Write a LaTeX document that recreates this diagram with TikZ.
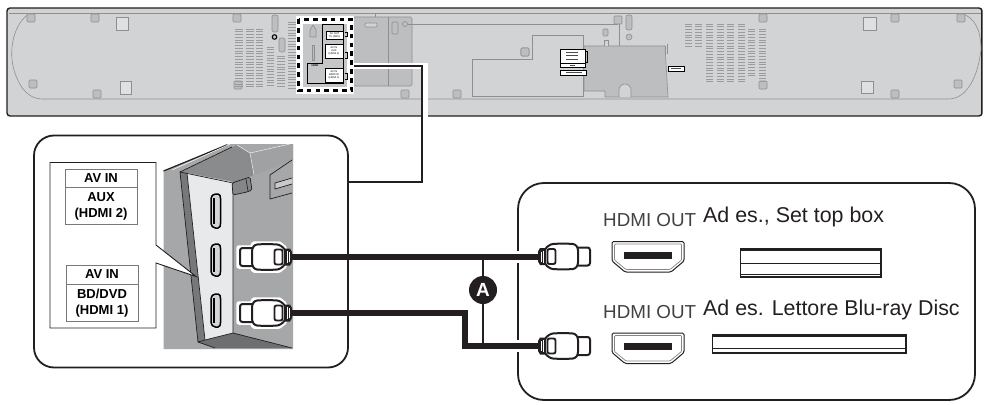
\documentclass[tikz,border=0pt]{standalone}
\usepackage{fontspec}
\setmainfont{Liberation Sans}
\definecolor{barfill}{HTML}{D2D3D4}
\definecolor{barline}{HTML}{8E8F90}
\definecolor{bardark}{HTML}{BDBEBF}
\definecolor{ventline}{HTML}{9A9B9C}
\definecolor{wall}{HTML}{A6A7A9}
\definecolor{wallup}{HTML}{8A8B8D}
\definecolor{wallr}{HTML}{A0A1A3}
\definecolor{plate}{HTML}{E8E9EA}
\definecolor{edgeg}{HTML}{77787A}
\definecolor{floorg}{HTML}{6E6F71}
\definecolor{ink}{HTML}{231F20}
\tikzset{
  panelbox/.style={draw=ink,line width=1.8pt,fill=white,rounded corners=#1,inner sep=0pt},
  barpart/.style={draw=barline,line width=.6pt},
  peg/.style={draw=barline,line width=.6pt,fill=bardark},
  bigsq/.style={draw=barline,line width=.6pt,fill=barfill!70!white},
  vent/.style={draw=ventline,line width=.6pt},
  tinybox/.style={draw=black,line width=.7pt,fill=white},
  tinytxt/.style={font=\fontsize{2.6}{3}\selectfont,align=center,inner sep=0pt},
  lblhead/.style={draw=edgeg,line width=.8pt,fill=white,inner sep=0pt,font=\bfseries\fontsize{13}{15}\selectfont},
  lblbody/.style={draw=edgeg,line width=.8pt,fill=white,inner sep=0pt,align=center,font=\bfseries\fontsize{13}{16.5}\selectfont},
  cablehalo/.style={draw=white,line width=12pt,line cap=butt},
  cableline/.style={draw=ink,line width=5.5pt,line join=miter,line cap=butt},
  hdmitxt/.style={anchor=base west,inner sep=0pt,text=ink!85,font=\fontsize{18.8}{20}\selectfont},
  devtxt/.style={anchor=base west,inner sep=0pt,text=ink,font=\fontsize{21.4}{23}\selectfont},
  devbox/.style={draw=ink,line width=1.1pt,fill=white},
  devband/.style={draw=ink,line width=2.2pt},
}
\newcommand{\pegat}[2]{\draw[peg,rounded corners=1pt] (#1-4,#2-4) rectangle (#1+4,#2+4);}
\newcommand{\ventcol}[4]{\foreach \nn in {0,...,40}{\pgfmathsetmacro{\yy}{#3+\nn*2.75}\pgfmathparse{\yy<=#4?1:0}\ifnum\pgfmathresult=1\draw[vent] (#1,\yy)--(#2,\yy);\fi}}
\newcommand{\plugshape}{%
  \path[fill=white,draw=white,line width=5.5pt,line join=round] (-53,-9)--(-40,-9)--(-38,-13)--(-13,-13)--(-8,-9)--(-8,9)--(-13,13)--(-38,13)--(-40,9)--(-53,9)--cycle;
  \draw[ink,line width=2pt,fill=white,rounded corners=2.5pt] (-52,-9)rectangle(-38,9);
  \draw[ink,line width=2pt,fill=white,rounded corners=2.5pt] (-40,-8.5)--(-37,-12.5)--(-25,-13)--(-13,-12.5)--(-7,-8)--(-7,8)--(-13,12.5)--(-25,13)--(-37,12.5)--(-40,8.5)--cycle;
  \draw[ink,line width=1.9pt,fill=white,rounded corners=2pt] (-17.5,-7.5)rectangle(-9.5,7.5);
  \fill[ink] (-7,-8.5)--(-2,-8.5)--(0,-5)--(0,5)--(-2,8.5)--(-7,8.5)--cycle;
  \draw[white,line width=.5pt] (-5,-6)--(-5,6) (-2.8,-5)--(-2.8,5);
}
\newcommand{\outport}[2]{%
  \draw[ink,line width=1pt,fill=white,rounded corners=1.5pt] (#1-36,#2-15.5)--(#1+36,#2-15.5)--(#1+36,#2+4)--(#1+23,#2+15)--(#1-23,#2+15)--(#1-36,#2+4)--cycle;
  \draw[ink!55,line width=.7pt,rounded corners=1pt] (#1-33.5,#2-13)--(#1+33.5,#2-13)--(#1+33.5,#2+3)--(#1+22,#2+12.5)--(#1-22,#2+12.5)--(#1-33.5,#2+3)--cycle;
  \fill[ink] (#1-24,#2-5.5) rectangle (#1+24,#2+1.5);
}
\newcommand{\inport}[3]{%
  \draw[black,line width=1.5pt,fill=plate!70!wall,rounded corners=1.5pt] (#1-5,#2+2)--(#1-5,#3-2)--(#1-2,#3+1)--(#1+3.5,#3+1)--(#1+4.5,#3-2)--(#1+4.5,#2+2)--(#1+3.5,#2-1)--(#1-2,#2-1)--cycle;
  \fill[black] (#1-3,#2+3) rectangle (#1-1.5,#3-3);
}
\begin{document}
\begin{tikzpicture}[x=1pt,y=-1pt]
\useasboundingbox (0,0) rectangle (987,404);
% ---------- sound bar
\node[draw=ink,line width=1.4pt,fill=barfill,rounded corners=3pt,minimum width=975pt,minimum height=108pt,inner sep=0pt] (bar) at (494.5,62) {};
\draw[ink,line width=1pt] (981.5,10)--(981.5,114);
\draw[barpart] (9,13.5)--(981,13.5);
\draw[barpart] (30,13.5) .. controls (14,22) and (8,50) .. (14,70) .. controls (20,90) and (30,99) .. (42,99) -- (948,99) .. controls (968,99) and (978,75) .. (981,50) .. controls (981,30) and (975,18) .. (962,13.5);
\pegat{31}{18}\pegat{95}{18}\pegat{33}{84}\pegat{97}{94}\pegat{238}{85}\pegat{237}{18}\pegat{405}{94}\pegat{457}{94}\pegat{525}{52}\pegat{618}{20}\pegat{763}{18}\pegat{763}{85}\pegat{895}{18}\pegat{895}{94}\pegat{961}{18}\pegat{958}{84}
\draw[bigsq] (116,17) rectangle (128,30);
\draw[bigsq] (120,81) rectangle (131,94);
\draw[bigsq] (863,17) rectangle (876,30);
\draw[bigsq] (861,81) rectangle (873,93);
\draw[barpart,fill=bardark,rounded corners=2pt] (272,15) rectangle (278,32);
\draw[barpart,fill=bardark,rounded corners=2pt] (279,38) rectangle (285,52);
\draw[barpart,fill=bardark,rounded corners=2pt] (626,15) rectangle (632,30);
\draw[black,line width=1pt,fill=bardark] (274.5,37) circle (2.3pt);
\draw[barpart,fill=bardark] (629,37) circle (3pt);
\draw[barpart,fill=bardark,rounded corners=1pt] (603,29) rectangle (608,36);
% vents, left
\ventcol{235}{243}{29}{88}\ventcol{246}{254}{29}{88}\ventcol{256}{263}{29}{88}\ventcol{267}{274}{47}{88}\ventcol{277}{285}{56}{88}\ventcol{288}{296}{22}{88}
% vents, right
\ventcol{685}{692}{24}{48}\ventcol{695}{702}{24}{48}\ventcol{706}{713}{24}{82}\ventcol{717}{724}{24}{82}\ventcol{727}{734}{24}{82}\ventcol{738}{745}{24}{82}\ventcol{748}{755}{29}{78}\ventcol{759}{766}{29}{82}
\path[fill=barfill] (683,49) rectangle (706,63);
% back panels
\draw[barpart,fill=bardark,rounded corners=1.5pt] (353,17) rectangle (412,86);
\draw[barpart] (388,17)--(388,86) (375,17)--(375,13.5);
\draw[barpart,fill=barfill,rounded corners=1pt] (365,23) rectangle (377,27);
\draw[barpart,fill=bardark,rounded corners=1pt] (392,22) rectangle (398,34);
\draw[barpart,fill=bardark] (405,24) circle (2.5pt);
\draw[barpart] (408,24)--(618,24) (619,24)--(619,46);
\draw[barpart,fill=barfill] (472,59)--(532,59)--(532,35)--(583,35)--(583,96)--(472,96)--cycle;
\pegat{525}{52}
\draw[barpart,fill=bardark] (584,46)--(665,46)--(668,97)--(605,97)--(605,91)--(584,91)--cycle;
\draw[barpart,fill=barfill] (619,97)--(619,90) arc[start angle=180,end angle=0,radius=6pt]--(631,97);
\draw[barpart,fill=barfill] (604,46)--(604,40)--(608,40)--(608,46);
\draw[barpart] (665,46)--(665,54)(667,44)--(667,54);
% right labels of the bar
\draw[tinybox] (560,49) rectangle (585,66);
\draw[black,line width=.5pt] (585,51)--(587,51)--(587,62)--(585,62);
\draw[tinybox] (560,63) rectangle (585,67);
\draw[tinybox] (560,70.5) rectangle (586,75);
\draw[tinybox] (668,66.5) rectangle (684,71);
\draw[black!70,line width=.6pt] (566,52)--(578,52) (566,55.5)--(578,55.5) (566,59)--(578,59) (570,65)--(575,65) (566,72.7)--(582,72.7) (671,68.7)--(681,68.7);
% highlighted window
\node[fill=white,minimum width=58pt,minimum height=78pt,inner sep=0pt] (hl) at (325,55) {};
\path[fill=bardark!60!barfill] (303,24) rectangle (347,87);
\draw[barpart,fill=bardark] (310,37)--(310,30)--(313,25)--(316,30)--(316,37)--cycle;
\draw[barpart,fill=bardark] (312,45) rectangle (314,60);
\draw[black,line width=.8pt] (322,24)--(343,24)--(343,83)--(307,83)--(307,63)--(322,63)--cycle;
\node[tinybox,tinytxt,minimum width=17pt,minimum height=8pt] (tvbox) at (334.5,35) {AV OUT\\TV (ARC)};
\node[tinybox,tinytxt,minimum width=18pt,minimum height=14pt] (auxbox) at (334,51) {AV IN\\AUX\\(HDMI 2)};
\node[tinybox,tinytxt,minimum width=18pt,minimum height=14pt] (bdbox) at (334,75) {AV IN\\BD/DVD\\(HDMI 1)};
\node[tinytxt,font=\bfseries\fontsize{2.6}{3}\selectfont] (hdmilabel) at (315,66) {HDMI};
\draw[black,line width=.7pt] (345,32)--(347,32)--(347,36)--(345,36) (345,52)--(347,52)--(347,58)--(345,58) (345,73)--(347,73)--(347,79)--(345,79);
\draw[black,line width=3.4pt,dash pattern=on 4.6pt off 4.2pt] (298.5,19.5) rectangle (351.5,90.5);
% ---------- left inset
\node[panelbox=20pt,minimum width=314pt,minimum height=232pt] (leftpanel) at (191,251.5) {};
% photo
\fill[wall] (163.5,171)--(227,144)--(293,144)--(293,349)--(163.5,349)--cycle;
\fill[wallr] (250,153)--(290,144)--(293,144)--(293,160)--(254,175)--cycle;
\fill[wallup] (180,172)--(237,145)--(250,153)--(254,175)--(232,183)--(187,173)--cycle;
\fill[edgeg] (180,172)--(187,173)--(205,340)--(198,342)--cycle;
\fill[plate] (187,173)--(233,182)--(233,333)--(205,340)--cycle;
\fill[floorg] (198,342)--(205,340)--(233,333)--(292,348)--(215,348)--cycle;
\draw[ink,line width=1.2pt] (163.5,171)--(227,145);
\draw[white,line width=.5pt] (172,170)--(230,144);
\draw[ink,line width=.7pt] (180,172)--(232,147);
\draw[ink,line width=.7pt] (180,172)--(233,183)--(233,333)--(205,340)--(198,342)--cycle;
\draw[ink,line width=.7pt] (205,340)--(187,173);
\draw[ink,line width=.7pt] (198,342)--(215,348) (233,333)--(292,348);
\draw[white,line width=.4pt] (237,145)--(250,153)--(254,175) (250,153)--(290,144);
\draw[ink,line width=.7pt,fill=wall!80!black,rounded corners=1.5pt] (232,183)--(233,195)--(247,192)--(252,190)--(250,177)--cycle;
\draw[ink,line width=.6pt] (246,179)--(248,191);
\draw[ink,line width=.7pt] (292,160)--(270,175)--(270,199)--(292,193);
\draw[ink,line width=.7pt,fill=wall!60!white] (292,178)--(275,183)--(275,189)--(292,184);
\inport{216}{195}{227}
\inport{216}{245}{275}
\inport{216}{295}{326}
% callout and labels
\path[fill=white,draw=ink,line width=.9pt] (50,162.5)--(156,162.5)--(156,245)--(196,276.5)--(156,263)--(156,328)--(50,328)--cycle;
\node[lblhead,minimum width=72pt,minimum height=18pt] (h2) at (101,178) {AV IN};
\node[lblbody,minimum width=72pt,minimum height=37pt,anchor=north] (b2) at (h2.south) {AUX\\(HDMI 2)};
\node[lblhead,minimum width=72pt,minimum height=19pt] (h1) at (102,274.5) {AV IN};
\node[lblbody,minimum width=72pt,minimum height=37pt,anchor=north] (b1) at (h1.south) {BD/DVD\\(HDMI 1)};
% ---------- right inset
\node[panelbox=26pt,minimum width=457pt,minimum height=217pt] (rightpanel) at (746.5,291.5) {};
\node[hdmitxt] (o1) at (603,226) {HDMI OUT};
\node[hdmitxt] (o2) at (603,318) {HDMI OUT};
\node[devtxt] (d1) at (703,222) {Ad es., Set top box};
\node[devtxt] (d2) at (703,315) {Ad es. Lettore Blu-ray Disc};
\outport{648}{257}
\outport{648}{348.5}
% devices
\draw[devbox] (740.5,249) rectangle (881,277);
\draw[ink,line width=.8pt] (740.5,263.5)--(881,263.5) (740.5,274.5)--(881,274.5);
\draw[devband] (740.5,250)--(881,250);
\draw[ink,line width=.8pt] (745,248)--(756,248) (859,248)--(877,248);
\draw[devbox] (712.5,335) rectangle (906,353);
\draw[ink,line width=.8pt] (712.5,348.5)--(906,348.5);
\draw[devband] (712.5,336)--(906,336);
\draw[ink,line width=.8pt] (714,334)--(725,334) (889,334)--(905,334);
% ---------- connectors
\coordinate (lp1) at (292,257);
\coordinate (lp2) at (292,313);
\coordinate (rp1) at (538,257);
\coordinate (rp2) at (538,346);
\draw[white,line width=5pt] ([yshift=-11pt]hl.east) -- (425,66) -- (425,125);
\draw[ink,line width=2pt] ([yshift=-11pt]hl.east) -| (422,182) -- ([yshift=69.5pt]leftpanel.east);
\draw[cablehalo] (512,257)--(rp1);
\draw[cablehalo] (512,346)--(rp2);
\draw[cableline] (lp1) -- (rp1);
\draw[cableline] (lp2) -- (465,313) -- (465,346) -- (rp2);
\begin{scope}[shift={(292,257)}]\plugshape\end{scope}
\begin{scope}[shift={(292,313)}]\plugshape\end{scope}
\begin{scope}[shift={(538,256.5)},xscale=-1]\plugshape\end{scope}
\begin{scope}[shift={(538,346)},xscale=-1]\plugshape\end{scope}
\node[circle,fill=ink,minimum size=28pt,inner sep=0pt,text=white,font=\bfseries\fontsize{19}{20}\selectfont] (markA) at (483,290) {A};
\draw[ink,line width=1.3pt] (markA) -- (483,257) (markA) -- (483,346);
\end{tikzpicture}
\end{document}
